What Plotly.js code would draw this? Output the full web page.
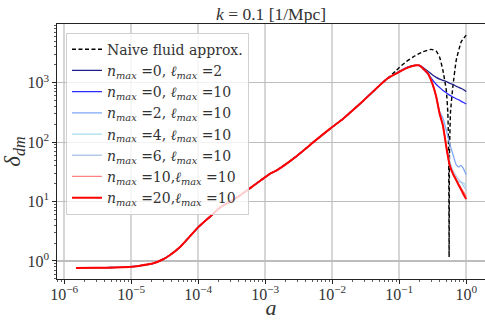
<!DOCTYPE html>
<html>
<head>
<meta charset="utf-8">
<script src="https://cdn.plot.ly/plotly-3.0.1.min.js"></script>
<style>html,body{margin:0;padding:0;background:#fff}#chart{width:485px;height:320px}</style>
</head>
<body>
<div id="chart"></div>
<script>
// Early growth, shared by every run (a, delta_dm)
const aEarly = [1.5e-6, 3e-6, 6e-6, 1e-5, 1.35e-5, 2.14e-5, 3e-5, 3.8e-5, 5.4e-5, 7.5e-5, 1.02e-4, 1.5e-4, 2.14e-4, 3.02e-4, 4.27e-4, 6.03e-4, 8.43e-4, 1.2e-3, 1.5e-3, 2.66e-3, 5.3e-3, 9.42e-3, 1.33e-2, 2.97e-2, 6.65e-2];
const dEarly = [0.76, 0.766, 0.78, 0.80, 0.834, 0.914, 1.07, 1.26, 1.74, 2.6, 3.78, 5.56, 8.0, 10.0, 12.85, 17.0, 22.4, 29.8, 33.8, 53.2, 101, 170, 228, 508, 1175];

// Late-time scale factors for the Boltzmann hierarchy runs
const aLate = [0.1, 0.126, 0.158, 0.179, 0.2, 0.225, 0.268, 0.318, 0.357, 0.4, 0.448, 0.504, 0.564, 0.631, 0.708, 0.776, 0.832, 0.891, 1.0];
const dN0L2  = [1550, 1778, 1928, 1968, 1950, 1820, 1550, 1334, 1230, 1148, 1096, 1047, 977, 933, 871, 832, 804, 776, 708];
const dN0L10 = [1540, 1770, 1920, 1960, 1930, 1740, 1400, 1096, 933, 832, 741, 676, 617, 575, 537, 513, 490, 468, 437];
const dN2L10 = [1514, 1738, 1905, 1968, 1950, 1738, 1429, 910, 580, 331, 251, 158, 95, 63, 41.7, 38, 40.7, 37.2, 28.2];
const dN4L10 = [1514, 1738, 1905, 1968, 1950, 1738, 1429, 908, 575, 302, 195, 89, 50, 31.6, 24, 21.4, 21.0, 20.9, 18.2];
const dN6L10 = [1514, 1738, 1905, 1968, 1950, 1738, 1429, 908, 575, 302, 191, 83, 43.7, 33.1, 26.9, 23.4, 21.4, 19.1, 15.5];
const dN10L10 = [1514, 1738, 1905, 1968, 1950, 1738, 1429, 908, 575, 302, 191, 83, 41.7, 30.2, 24.0, 19.5, 17.0, 15.1, 12.3];
const dN20L10 = [1514, 1738, 1905, 1968, 1950, 1738, 1429, 908, 575, 302, 191, 83, 41.7, 29.5, 22.9, 18.6, 16.2, 13.8, 11.0];

// Naive fluid approximation, late part
const aFluid = [0.0891, 0.101, 0.126, 0.16, 0.225, 0.301, 0.357, 0.4, 0.448, 0.504, 0.531, 0.547, 0.555, 0.562, 0.582, 0.631, 0.71, 0.843, 1.0];
const dFluid = [1585, 1820, 2239, 2692, 3311, 3631, 3388, 2692, 1622, 741, 316, 63, 1.17, 63, 316, 851, 2399, 4898, 6310];

const names = [
  'Naive fluid approx.',
  '<i>n</i><sub><i>max</i></sub> =0, <i>ℓ</i><sub><i>max</i></sub> =2',
  '<i>n</i><sub><i>max</i></sub> =0, <i>ℓ</i><sub><i>max</i></sub> =10',
  '<i>n</i><sub><i>max</i></sub> =2, <i>ℓ</i><sub><i>max</i></sub> =10',
  '<i>n</i><sub><i>max</i></sub> =4, <i>ℓ</i><sub><i>max</i></sub> =10',
  '<i>n</i><sub><i>max</i></sub> =6, <i>ℓ</i><sub><i>max</i></sub> =10',
  '<i>n</i><sub><i>max</i></sub> =10,<i>ℓ</i><sub><i>max</i></sub> =10',
  '<i>n</i><sub><i>max</i></sub> =20,<i>ℓ</i><sub><i>max</i></sub> =10'
];
const colors = ['#000000', '#1f1f8a', '#2a2aff', '#7fa8f5', '#a6dcec', '#b3c9ea', '#ff8080', '#ff0000'];
const widths = [1.4, 1.3, 1.3, 1.3, 1.3, 1.3, 1.3, 2.0];

const xTickVals = [1e-6, 1e-5, 1e-4, 1e-3, 1e-2, 1e-1, 1];
const xTickText = ['10<sup>−6</sup>', '10<sup>−5</sup>', '10<sup>−4</sup>', '10<sup>−3</sup>', '10<sup>−2</sup>', '10<sup>−1</sup>', '10<sup>0</sup>'];
const yTickVals = [1, 10, 100, 1000];
const yTickText = ['10<sup>0</sup>', '10<sup>1</sup>', '10<sup>2</sup>', '10<sup>3</sup>'];

const lateSeries = [dN0L2, dN0L10, dN2L10, dN4L10, dN6L10, dN10L10, dN20L10];
const traces = [];
traces.push({
  x: aEarly.concat(aFluid), y: dEarly.concat(dFluid), name: names[0], mode: 'lines',
  line: {color: colors[0], width: widths[0], dash: '4px,2.5px', shape: 'spline', smoothing: 0.4}
});
lateSeries.forEach((d, i) => {
  traces.push({
    x: aEarly.concat(aLate), y: dEarly.concat(d), name: names[i + 1], mode: 'lines',
    line: {color: colors[i + 1], width: widths[i + 1], shape: 'spline', smoothing: 0.6}
  });
});

const font = 'Liberation Serif, DejaVu Serif, serif';
const legFont = 'DejaVu Serif, serif';
const layout = {
  width: 485, height: 320,
  margin: {l: 57, r: 0, t: 24, b: 41},
  paper_bgcolor: '#fff', plot_bgcolor: '#fff',
  font: {family: font, color: '#333', size: 16},
  showlegend: true,
  title: {text: '<i>k</i> = 0.1 [1/Mpc]', x: 0.5, xref: 'paper', xanchor: 'center', y: 0.957, yref: 'container', yanchor: 'middle', font: {family: font, size: 17.5, color: '#333'}},
  xaxis: {
    type: 'log', range: [-6.108, 0.28], tickmode: 'array', tickvals: xTickVals, ticktext: xTickText,
    showgrid: true, gridcolor: '#d6d6d6', gridwidth: 1.8,
    showline: true, linecolor: '#222', linewidth: 1.2, mirror: true,
    ticks: 'outside', ticklen: 3.5, tickwidth: 1, tickcolor: '#222', ticklabelstandoff: -3,
    tickfont: {size: 16, family: font, color: '#333'},
    minor: {dtick: 'D1', ticks: 'outside', ticklen: 2, tickwidth: 0.8, tickcolor: '#333', showgrid: false},
    zeroline: false,
    title: {text: '<i>a</i>', font: {size: 22, family: font, color: '#333'}, standoff: 2}
  },
  yaxis: {
    type: 'log', range: [-0.303, 3.987], tickmode: 'array', tickvals: yTickVals, ticktext: yTickText,
    showgrid: true, gridcolor: '#bdbdbd', gridwidth: 1.2,
    showline: true, linecolor: '#222', linewidth: 1.2, mirror: false,
    ticks: 'outside', ticklen: 3.5, tickwidth: 1, tickcolor: '#222',
    tickfont: {size: 16, family: font, color: '#333'},
    minor: {dtick: 'D1', ticks: 'outside', ticklen: 2, tickwidth: 0.8, tickcolor: '#333', showgrid: false},
    zeroline: false,
    title: {text: '<i>δ</i><sub><i>dm</i></sub>', font: {size: 23, family: font, color: '#333'}, standoff: 1}
  },
  legend: {
    x: 0.021, y: 0.966, xanchor: 'left', yanchor: 'top',
    bgcolor: 'rgba(255,255,255,0.8)', bordercolor: '#d0d0d0', borderwidth: 1,
    font: {family: legFont, size: 14, color: '#333'}, tracegroupgap: 0, itemwidth: 30
  }
};
Plotly.newPlot('chart', traces, layout, {displayModeBar: false, staticPlot: true});
</script>
</body>
</html>
